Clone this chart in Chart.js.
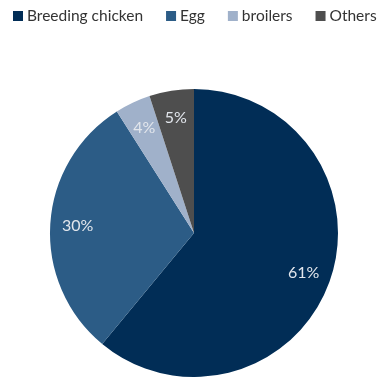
<!DOCTYPE html>
<html>
<head>
<meta charset="utf-8">
<script src="https://cdn.jsdelivr.net/npm/chart.js@4"></script>
<style>
  html, body { margin: 0; padding: 0; background: #fff; }
  #wrap { width: 385px; height: 377px; }
</style>
</head>
<body>
<div id="wrap"><canvas id="pasta"></canvas></div>
<script>
const categories = ['Breeding chicken', 'Egg', 'broilers', 'Others'];
const shares = [61, 30, 4, 5];
const colors = ['#012d56', '#2c5c86', '#a0b1ca', '#4e4e4e'];

const FONT = 'Lato, "DejaVu Sans", sans-serif';

// legend drawn on top, items laid out left to right
const topLegend = {
    id: 'topLegend',
    afterDraw(chart) {
        const ctx = chart.ctx;
        ctx.save();
        ctx.font = '15.5px ' + FONT;
        ctx.textBaseline = 'middle';
        let x = 13;
        const y = 16;
        categories.forEach(function (name, i) {
            ctx.fillStyle = colors[i];
            ctx.fillRect(x, y - 5, 10, 10);
            ctx.fillStyle = '#333333';
            ctx.fillText(name, x + 14, y);
            x += 14 + ctx.measureText(name).width + 23;
        });
        ctx.restore();
    }
};

// percentage labels inside the slices
const sliceLabels = {
    id: 'sliceLabels',
    afterDatasetsDraw(chart) {
        const ctx = chart.ctx;
        const meta = chart.getDatasetMeta(0);
        ctx.save();
        ctx.font = '16px ' + FONT;
        ctx.fillStyle = '#e2e6ec';
        ctx.textAlign = 'center';
        ctx.textBaseline = 'middle';
        meta.data.forEach(function (arc, i) {
            const p = arc.getProps(['x', 'y', 'startAngle', 'endAngle', 'outerRadius'], true);
            const mid = (p.startAngle + p.endAngle) / 2;
            const r = p.outerRadius * 0.81;
            ctx.fillText(shares[i] + '%', p.x + Math.cos(mid) * r, p.y + Math.sin(mid) * r);
        });
        ctx.restore();
    }
};

const config = {
    type: 'pie',
    data: {
        labels: categories,
        datasets: [{
            data: shares,
            backgroundColor: colors,
            borderWidth: 0
        }]
    },
    options: {
        responsive: true,
        maintainAspectRatio: false,
        animation: false,
        layout: {
            padding: { top: 89, left: 3, right: 0, bottom: 0 }
        },
        plugins: {
            legend: { display: false },
            tooltip: { enabled: false }
        }
    },
    plugins: [topLegend, sliceLabels]
};

const context = document.getElementById('pasta').getContext('2d');
const pieChart = new Chart(context, config);
</script>
</body>
</html>
